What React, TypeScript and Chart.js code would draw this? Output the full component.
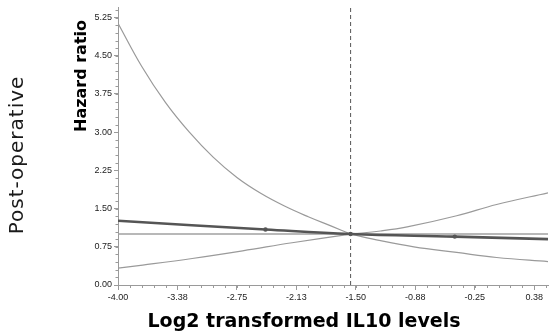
import React, { useEffect, useRef } from 'react';
import { Chart, registerables } from 'chart.js';

Chart.register(...registerables);

// ---- data ----
const xTickValues = [-4, -3.375, -2.75, -2.125, -1.5, -0.875, -0.25, 0.375];
const xTickLabels = ['-4.00', '-3.38', '-2.75', '-2.13', '-1.50', '-0.88', '-0.25', '0.38'];
const yTickValues = [0, 0.75, 1.5, 2.25, 3, 3.75, 4.5, 5.25];
const yTickLabels = ['0.00', '0.75', '1.50', '2.25', '3.00', '3.75', '4.50', '5.25'];

// upper 95% CI, left and right of the reference point
const upperLeftX = [-4.0, -3.75, -3.5, -3.25, -3.0, -2.75, -2.5, -2.25, -2.0, -1.75, -1.555];
const upperLeftY = [5.14, 4.29, 3.58, 3.0, 2.51, 2.11, 1.8, 1.55, 1.34, 1.15, 1.0];
const upperRightX = [-1.555, -1.24, -0.96, -0.44, -0.02, 0.52];
const upperRightY = [1.0, 1.06, 1.14, 1.36, 1.58, 1.81];

// lower 95% CI
const lowerLeftX = [-4.0, -3.74, -3.22, -2.69, -2.17, -1.555];
const lowerLeftY = [0.33, 0.39, 0.52, 0.67, 0.83, 1.0];
const lowerRightX = [-1.555, -1.24, -0.89, -0.44, -0.02, 0.52];
const lowerRightY = [1.0, 0.87, 0.75, 0.64, 0.54, 0.46];

// hazard ratio estimate
const estX = [-4.0, -2.45, -1.555, -0.46, 0.52];
const estY = [1.26, 1.09, 1.0, 0.95, 0.9];

const markerX = [-2.45, -1.555, -0.46];
const markerY = [1.09, 1.0, 0.95];

const refHR = 1.0;
const medianX = -1.555;
const xMin = -4.0;
const xMax = 0.52;
const yMin = 0;
const yMax = 5.45;
const xMinorStep = 0.125;
const yMinorStep = 0.15;

const xTitle = 'Log2 transformed IL10 levels';
const yTitle = 'Hazard ratio';
const sideTitle = 'Post-operative';

const zip = (xs: number[], ys: number[]) => xs.map((x, i) => ({ x, y: ys[i] }));

const AXIS_COLOR = '#9a9a9a';
const CI_COLOR = '#9a9a9a';

const decorPlugin = {
  id: 'decor',
  afterDraw(chart: any) {
    const { ctx, scales, chartArea } = chart;
    const x = scales.x;
    const y = scales.y;
    ctx.save();
    // minor ticks
    ctx.strokeStyle = AXIS_COLOR;
    ctx.lineWidth = 1;
    ctx.beginPath();
    for (let v = xMin; v <= xMax + 1e-9; v += xMinorStep) {
      const px = Math.round(x.getPixelForValue(v)) + 0.5;
      ctx.moveTo(px, chartArea.bottom);
      ctx.lineTo(px, chartArea.bottom + 3);
    }
    for (let v = yMin; v <= yMax + 1e-9; v += yMinorStep) {
      const py = Math.round(y.getPixelForValue(v)) + 0.5;
      ctx.moveTo(chartArea.left, py);
      ctx.lineTo(chartArea.left - 2.5, py);
    }
    ctx.stroke();

    // titles
    ctx.fillStyle = '#000';
    ctx.textAlign = 'center';
    ctx.textBaseline = 'middle';
    ctx.font = 'bold 19px "DejaVu Sans"';
    ctx.fillText(xTitle, 304, 322);

    ctx.save();
    ctx.translate(82, 76);
    ctx.rotate(-Math.PI / 2);
    ctx.font = 'bold 16px "DejaVu Sans"';
    ctx.fillText(yTitle, 0, 0);
    ctx.restore();

    ctx.save();
    ctx.translate(18, 155);
    ctx.rotate(-Math.PI / 2);
    ctx.fillStyle = '#1a1a1a';
    ctx.font = '20px "DejaVu Sans"';
    (ctx as any).letterSpacing = '1px';
    ctx.fillText(sideTitle, 0, 0);
    ctx.restore();

    ctx.restore();
  },
};

const ciLine = (label: string, xs: number[], ys: number[]) => ({
  label,
  data: zip(xs, ys),
  showLine: true,
  borderColor: CI_COLOR,
  borderWidth: 1.2,
  pointRadius: 0,
  tension: 0.4,
});

export default function App() {
  const ref = useRef<HTMLCanvasElement | null>(null);

  useEffect(() => {
    if (!ref.current) return;
    const chart = new Chart(ref.current, {
      type: 'scatter',
      data: {
        datasets: [
          {
            label: 'markers',
            data: zip(markerX, markerY),
            showLine: false,
            pointRadius: 2.2,
            pointBackgroundColor: '#555',
            pointBorderColor: '#555',
            borderWidth: 0,
          },
          {
            label: 'estimate',
            data: zip(estX, estY),
            showLine: true,
            borderColor: '#555555',
            borderWidth: 2.6,
            pointRadius: 0,
            tension: 0.4,
          },
          ciLine('upper-left', upperLeftX, upperLeftY),
          ciLine('upper-right', upperRightX, upperRightY),
          ciLine('lower-left', lowerLeftX, lowerLeftY),
          ciLine('lower-right', lowerRightX, lowerRightY),
          {
            label: 'reference',
            data: [
              { x: xMin, y: refHR },
              { x: xMax, y: refHR },
            ],
            showLine: true,
            borderColor: '#a0a0a0',
            borderWidth: 1.5,
            pointRadius: 0,
          },
          {
            label: 'median',
            data: [
              { x: medianX, y: yMin },
              { x: medianX, y: yMax },
            ],
            showLine: true,
            borderColor: '#555',
            borderWidth: 1,
            borderDash: [4, 3],
            pointRadius: 0,
          },
        ],
      },
      options: {
        animation: false,
        responsive: false,
        devicePixelRatio: 1,
        layout: { padding: { left: 0, top: 7, right: 0, bottom: 0 } },
        plugins: {
          legend: { display: false },
          tooltip: { enabled: false },
        },
        scales: {
          x: {
            type: 'linear',
            min: xMin,
            max: xMax,
            afterFit: (s: any) => {
              s.height = 49;
            },
            afterBuildTicks: (s: any) => {
              s.ticks = xTickValues.map((v) => ({ value: v }));
            },
            grid: {
              drawOnChartArea: false,
              drawTicks: true,
              tickLength: 5,
              tickColor: AXIS_COLOR,
            },
            border: { color: AXIS_COLOR, width: 1 },
            ticks: {
              autoSkip: false,
              maxRotation: 0,
              padding: 2,
              color: '#222',
              font: { family: '"Liberation Sans"', size: 9 },
              callback: (_v: any, i: number) => xTickLabels[i],
            },
          },
          y: {
            type: 'linear',
            min: yMin,
            max: yMax,
            afterFit: (s: any) => {
              s.width = 118;
            },
            afterBuildTicks: (s: any) => {
              s.ticks = yTickValues.map((v) => ({ value: v }));
            },
            grid: {
              drawOnChartArea: false,
              drawTicks: true,
              tickLength: 4,
              tickColor: AXIS_COLOR,
            },
            border: { color: AXIS_COLOR, width: 1 },
            ticks: {
              autoSkip: false,
              padding: 2,
              color: '#222',
              font: { family: '"Liberation Sans"', size: 9 },
              callback: (_v: any, i: number) => yTickLabels[i],
            },
          },
        },
      },
      plugins: [decorPlugin],
    } as any);
    return () => chart.destroy();
  }, []);

  return (
    <div style={{ position: 'absolute', left: 0, top: 0, width: 552, height: 334, background: '#fff' }}>
      <canvas ref={ref} width={552} height={334} />
    </div>
  );
}
